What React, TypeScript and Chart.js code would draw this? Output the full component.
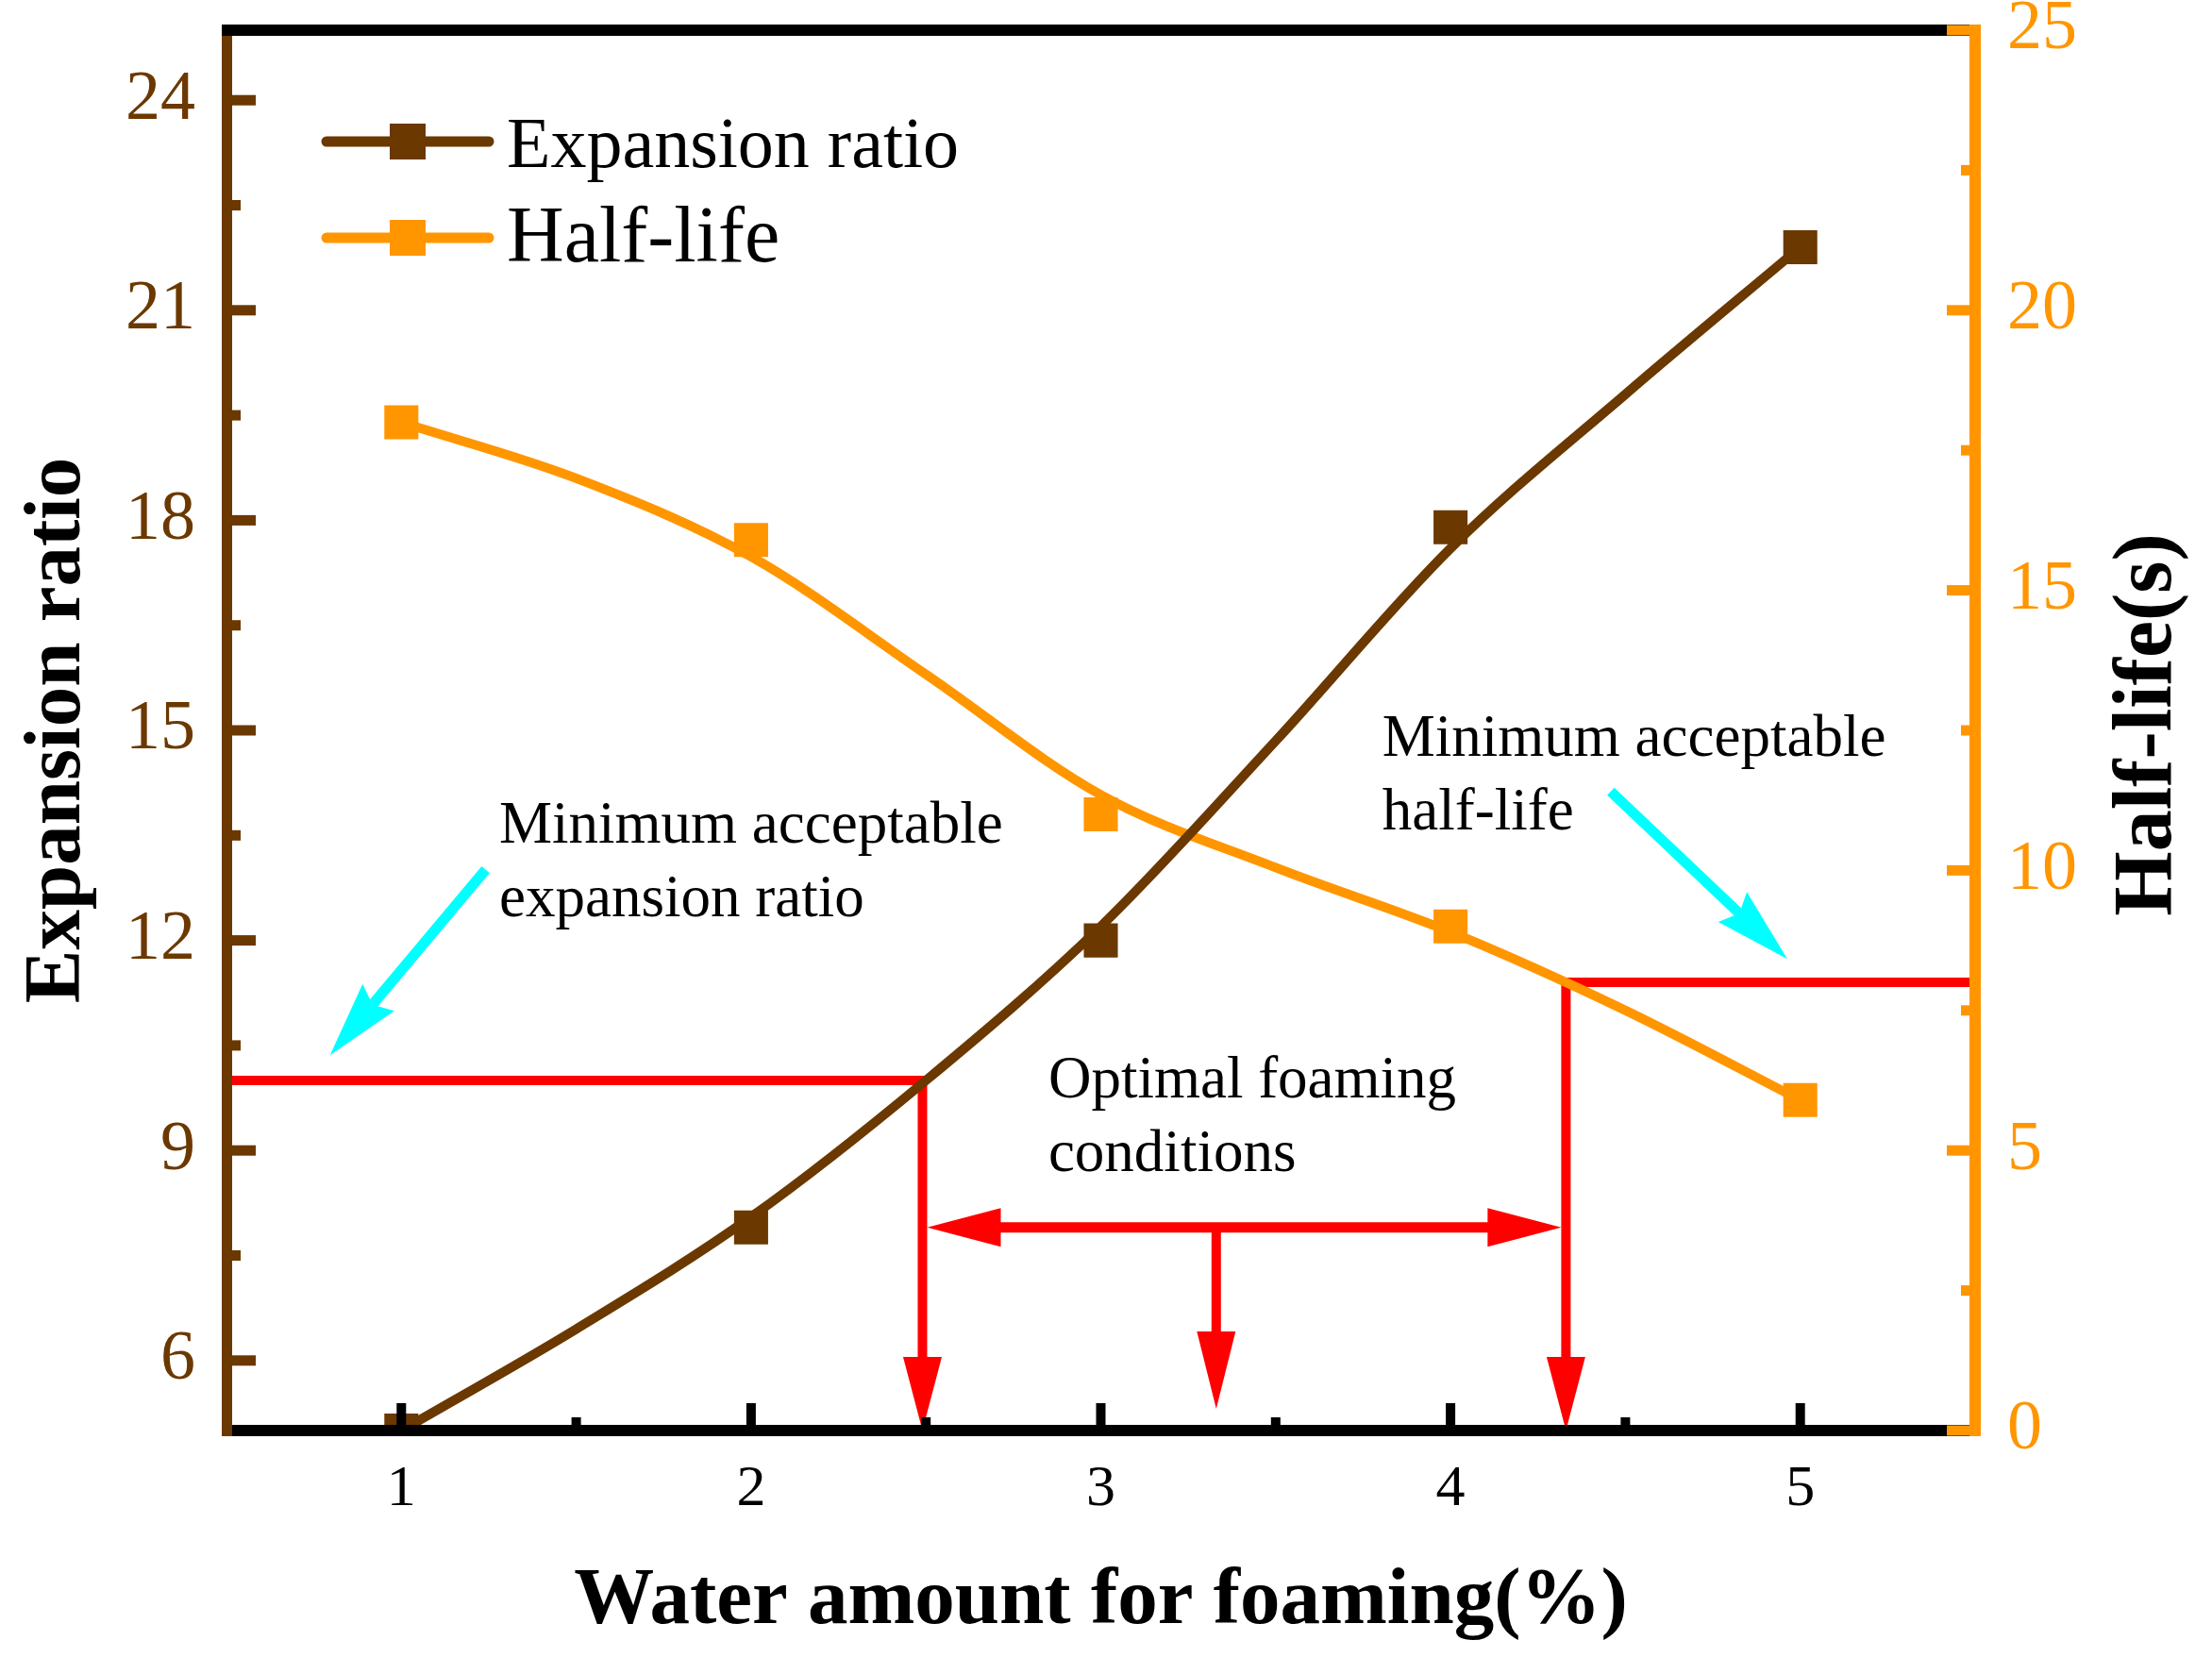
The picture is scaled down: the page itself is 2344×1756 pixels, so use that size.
import React, { useEffect, useRef } from 'react';
import { Chart, registerables } from 'chart.js';

Chart.register(...registerables);

const W = 2344;
const H = 1756;

// measured points
const waterAmount = [1, 2, 3, 4, 5];
const expansionRatio = [5.0, 7.9, 12.0, 17.9, 21.9];
const halfLife = [18.0, 15.9, 11.0, 9.0, 5.9];

// smoothed trend curves
const fitWater = [1, 1.5, 2, 2.5, 3, 3.5, 4, 4.5, 5];
const expansionFit = [5.0, 6.45, 8.05, 10.0, 12.2, 14.85, 17.6, 19.8, 21.9];
const halfLifeFit = [18.0, 17.0, 15.6, 13.5, 11.35, 10.05, 8.9, 7.5, 5.9];

// axis ticks
const waterTicks = [1, 2, 3, 4, 5];
const expansionTicks = [6, 9, 12, 15, 18, 21, 24];
const halfLifeTicks = [0, 5, 10, 15, 20, 25];

// acceptance limits and the resulting optimal window
const minExpansionRatio = 10;
const minHalfLife = 8;
const optimalWindow = [2.49, 4.33];
const optimalMarker = 3.33;
const optimalBandLevel = 7.9; // on the expansion-ratio axis
const optimalMarkerTip = 5.31;

// pointer arrows: [fromX, fromY, toX, toY]
const expansionPointer = [1.241, 13.01, 0.796, 10.36]; // expansion-ratio axis
const halfLifePointer = [4.458, 11.41, 4.963, 8.42]; // half-life axis

const notes = [
  { lines: ['Minimum acceptable', 'expansion ratio'], x: 1.28, y: 13.4, axis: 'y' },
  { lines: ['Optimal foaming', 'conditions'], x: 2.85, y: 9.757, axis: 'y' },
  { lines: ['Minimum acceptable', 'half-life'], x: 3.805, y: 12.05, axis: 'y1' },
];

const BROWN = '#6b3800';
const ORANGE = '#ff9600';
const RED = '#ff0000';
const CYAN = '#00ffff';
const SERIF = '"Liberation Serif", "Times New Roman", Times, serif';

const pts = (xs: number[], ys: number[]) => xs.map((x, i) => ({ x, y: ys[i] }));
const minors = (t: number[]) => t.slice(0, -1).map((v, i) => (v + t[i + 1]) / 2);

function downHead(ctx: CanvasRenderingContext2D, x: number, tip: number, len: number, w: number) {
  ctx.beginPath();
  ctx.moveTo(x, tip);
  ctx.lineTo(x - w / 2, tip - len);
  ctx.lineTo(x + w / 2, tip - len);
  ctx.closePath();
  ctx.fill();
}

function sideHead(ctx: CanvasRenderingContext2D, tipX: number, y: number, len: number, w: number) {
  ctx.beginPath();
  ctx.moveTo(tipX, y);
  ctx.lineTo(tipX + len, y - w / 2);
  ctx.lineTo(tipX + len, y + w / 2);
  ctx.closePath();
  ctx.fill();
}

function pointer(ctx: CanvasRenderingContext2D, x1: number, y1: number, x2: number, y2: number) {
  const len = Math.hypot(x2 - x1, y2 - y1);
  const ux = (x2 - x1) / len;
  const uy = (y2 - y1) / len;
  const nx = -uy;
  const ny = ux;
  const headLen = 80;
  const headW = 44;
  const notch = 10;
  const bx = x2 - ux * headLen;
  const by = y2 - uy * headLen;
  const sx = x2 - ux * (headLen - notch);
  const sy = y2 - uy * (headLen - notch);
  ctx.lineWidth = 11;
  ctx.lineCap = 'butt';
  ctx.beginPath();
  ctx.moveTo(x1, y1);
  ctx.lineTo(sx, sy);
  ctx.stroke();
  ctx.beginPath();
  ctx.moveTo(x2, y2);
  ctx.lineTo(bx + (nx * headW) / 2, by + (ny * headW) / 2);
  ctx.lineTo(sx, sy);
  ctx.lineTo(bx - (nx * headW) / 2, by - (ny * headW) / 2);
  ctx.closePath();
  ctx.fill();
}

const decor = {
  id: 'decor',
  beforeDatasetsDraw(chart: any) {
    const { ctx, chartArea: a, scales } = chart;
    const sx = scales.x;
    const sy = scales.y;
    const sy1 = scales.y1;
    const xl = sx.getPixelForValue(optimalWindow[0]);
    const xh = sx.getPixelForValue(optimalWindow[1]);
    const xm = sx.getPixelForValue(optimalMarker);
    const yE = sy.getPixelForValue(minExpansionRatio);
    const yH = sy1.getPixelForValue(minHalfLife);
    const yBand = sy.getPixelForValue(optimalBandLevel);
    const yTip = sy.getPixelForValue(optimalMarkerTip);
    const yAxis = sy.getPixelForValue(sy.min);
    const HL = 78;
    const HW = 41;

    ctx.save();
    ctx.strokeStyle = RED;
    ctx.fillStyle = RED;
    ctx.lineWidth = 10;
    ctx.lineJoin = 'miter';
    ctx.lineCap = 'butt';

    // expansion-ratio limit and its drop to the axis
    ctx.beginPath();
    ctx.moveTo(a.left, yE);
    ctx.lineTo(xl, yE);
    ctx.lineTo(xl, yAxis - HL + 2);
    ctx.stroke();
    downHead(ctx, xl, yAxis, HL, HW);

    // half-life limit and its drop to the axis
    ctx.beginPath();
    ctx.moveTo(a.right, yH);
    ctx.lineTo(xh, yH);
    ctx.lineTo(xh, yAxis - HL + 2);
    ctx.stroke();
    downHead(ctx, xh, yAxis, HL, HW);

    // optimal window span
    ctx.lineWidth = 11;
    ctx.beginPath();
    ctx.moveTo(xl + HL - 2, yBand);
    ctx.lineTo(xh - HL + 2, yBand);
    ctx.stroke();
    sideHead(ctx, xl + 5, yBand, HL, HW);
    sideHead(ctx, xh - 5, yBand, -HL, HW);

    ctx.lineWidth = 10;
    ctx.beginPath();
    ctx.moveTo(xm, yBand);
    ctx.lineTo(xm, yTip - 82 + 2);
    ctx.stroke();
    downHead(ctx, xm, yTip, 82, HW);
    ctx.restore();
  },
  afterDatasetsDraw(chart: any) {
    const { ctx, chartArea: a, scales } = chart;
    const sx = scales.x;
    const sy = scales.y;
    const sy1 = scales.y1;
    ctx.save();

    // frame
    ctx.fillStyle = '#000';
    ctx.fillRect(a.left, a.bottom - 6, a.right - a.left, 12);
    ctx.fillStyle = BROWN;
    ctx.fillRect(a.left - 5, a.top, 11, a.bottom - a.top + 6);
    ctx.fillStyle = '#000';
    ctx.fillRect(a.left - 5, a.top - 6, a.right - a.left, 12);
    ctx.fillStyle = ORANGE;
    ctx.fillRect(a.right - 6, a.top - 6, 12, a.bottom - a.top + 12);

    // inward tick marks
    ctx.fillStyle = '#000';
    waterTicks.forEach((v) => ctx.fillRect(sx.getPixelForValue(v) - 5, a.bottom - 29, 10, 29));
    minors(waterTicks).forEach((v) => ctx.fillRect(sx.getPixelForValue(v) - 5, a.bottom - 14, 10, 14));
    ctx.fillStyle = BROWN;
    expansionTicks.forEach((v) => ctx.fillRect(a.left, sy.getPixelForValue(v) - 5.5, 31, 11));
    minors(expansionTicks).forEach((v) => ctx.fillRect(a.left, sy.getPixelForValue(v) - 5.5, 15, 11));
    ctx.fillStyle = ORANGE;
    halfLifeTicks.forEach((v) => ctx.fillRect(a.right - 30, sy1.getPixelForValue(v) - 5.5, 30, 11));
    minors(halfLifeTicks).forEach((v) => ctx.fillRect(a.right - 15, sy1.getPixelForValue(v) - 5.5, 15, 11));

    // pointer arrows
    ctx.strokeStyle = CYAN;
    ctx.fillStyle = CYAN;
    pointer(
      ctx,
      sx.getPixelForValue(expansionPointer[0]),
      sy.getPixelForValue(expansionPointer[1]),
      sx.getPixelForValue(expansionPointer[2]),
      sy.getPixelForValue(expansionPointer[3])
    );
    pointer(
      ctx,
      sx.getPixelForValue(halfLifePointer[0]),
      sy1.getPixelForValue(halfLifePointer[1]),
      sx.getPixelForValue(halfLifePointer[2]),
      sy1.getPixelForValue(halfLifePointer[3])
    );

    // notes
    ctx.fillStyle = '#000';
    ctx.font = `63px ${SERIF}`;
    ctx.textAlign = 'left';
    ctx.textBaseline = 'alphabetic';
    notes.forEach((n) => {
      const px = sx.getPixelForValue(n.x);
      const py = scales[n.axis].getPixelForValue(n.y);
      n.lines.forEach((t, i) => ctx.fillText(t, px, py + i * 78));
    });

    // legend
    const ds = chart.data.datasets;
    const rows = [
      { d: ds[0], y: a.top + 118, size: 76, base: 27 },
      { d: ds[1], y: a.top + 220, size: 84, base: 25 },
    ];
    rows.forEach((r) => {
      const color = r.d.backgroundColor as string;
      ctx.strokeStyle = color;
      ctx.fillStyle = color;
      ctx.lineWidth = 11;
      ctx.lineCap = 'round';
      ctx.beginPath();
      ctx.moveTo(a.left + 106, r.y);
      ctx.lineTo(a.left + 278, r.y);
      ctx.stroke();
      ctx.fillRect(a.left + 192 - 19, r.y - 19, 38, 38);
      ctx.fillStyle = '#000';
      ctx.font = `${r.size}px ${SERIF}`;
      ctx.fillText(r.d.label, a.left + 297, r.y + r.base);
    });

    // axis titles
    ctx.fillStyle = '#000';
    ctx.font = `bold 85px ${SERIF}`;
    ctx.textAlign = 'center';
    ctx.fillText('Water amount for foaming(%)', (a.left + a.right) / 2, a.bottom + 204);
    const cy = (a.top + a.bottom) / 2;
    ctx.save();
    ctx.translate(84, cy);
    ctx.rotate(-Math.PI / 2);
    ctx.fillText('Expansion ratio', 0, 0);
    ctx.restore();
    ctx.save();
    ctx.font = `bold 88px ${SERIF}`;
    ctx.translate(2300, cy - 6);
    ctx.rotate(-Math.PI / 2);
    ctx.fillText('Half-life(s)', 0, 0);
    ctx.restore();

    ctx.restore();
  },
};

function fixedScale(size: number, vertical: boolean) {
  return (scale: any) => {
    if (vertical) scale.width = size;
    else scale.height = size;
    scale.paddingLeft = 0;
    scale.paddingRight = 0;
    scale.paddingTop = 0;
    scale.paddingBottom = 0;
  };
}

export default function App() {
  const ref = useRef<HTMLCanvasElement>(null);

  useEffect(() => {
    if (!ref.current) return;
    const chart = new Chart(ref.current, {
      type: 'line',
      data: {
        datasets: [
          {
            label: 'Expansion ratio',
            data: pts(waterAmount, expansionRatio),
            yAxisID: 'y',
            showLine: false,
            pointStyle: 'rect',
            pointRadius: 25.5,
            pointBorderWidth: 0,
            backgroundColor: BROWN,
            borderColor: BROWN,
            clip: 0,
            order: 0,
          },
          {
            label: 'Half-life',
            data: pts(waterAmount, halfLife),
            yAxisID: 'y1',
            showLine: false,
            pointStyle: 'rect',
            pointRadius: 25.5,
            pointBorderWidth: 0,
            backgroundColor: ORANGE,
            borderColor: ORANGE,
            clip: 0,
            order: 0,
          },
          {
            label: 'Expansion ratio trend',
            data: pts(fitWater, expansionFit),
            yAxisID: 'y',
            borderColor: BROWN,
            borderWidth: 10,
            pointRadius: 0,
            cubicInterpolationMode: 'monotone',
            clip: 0,
            order: 1,
          },
          {
            label: 'Half-life trend',
            data: pts(fitWater, halfLifeFit),
            yAxisID: 'y1',
            borderColor: ORANGE,
            borderWidth: 10,
            pointRadius: 0,
            cubicInterpolationMode: 'monotone',
            clip: 0,
            order: 2,
          },
        ],
      },
      options: {
        responsive: false,
        animation: false,
        devicePixelRatio: 1,
        events: [],
        layout: { padding: { top: 32, left: 0, right: 0, bottom: 0 } },
        plugins: {
          legend: { display: false },
          tooltip: { enabled: false },
          title: { display: false },
        },
        scales: {
          x: {
            type: 'linear',
            position: 'bottom',
            min: 0.5,
            max: 5.5,
            grid: { display: false, drawTicks: false },
            border: { display: false },
            afterBuildTicks: (s: any) => {
              s.ticks = waterTicks.map((value) => ({ value }));
            },
            afterFit: fixedScale(240, false),
            ticks: {
              color: '#000',
              padding: 26,
              font: { family: SERIF, size: 62 },
              callback: (v: any) => String(v),
            },
          },
          y: {
            type: 'linear',
            position: 'left',
            min: 5,
            max: 25,
            grid: { display: false, drawTicks: false },
            border: { display: false },
            afterBuildTicks: (s: any) => {
              s.ticks = expansionTicks.map((value) => ({ value }));
            },
            afterFit: fixedScale(240, true),
            ticks: {
              color: BROWN,
              padding: 33,
              font: { family: SERIF, size: 74 },
              callback: (v: any) => String(v),
            },
          },
          y1: {
            type: 'linear',
            position: 'right',
            min: 0,
            max: 25,
            grid: { display: false, drawTicks: false },
            border: { display: false },
            afterBuildTicks: (s: any) => {
              s.ticks = halfLifeTicks.map((value) => ({ value }));
            },
            afterFit: fixedScale(251, true),
            ticks: {
              color: ORANGE,
              padding: 34,
              font: { family: SERIF, size: 74 },
              callback: (v: any) => String(v),
            },
          },
        },
      },
      plugins: [decor],
    } as any);
    return () => chart.destroy();
  }, []);

  return (
    <div style={{ position: 'fixed', left: 0, top: 0, width: W, height: H, background: '#fff' }}>
      <canvas ref={ref} width={W} height={H} style={{ display: 'block', width: W, height: H }} />
    </div>
  );
}
